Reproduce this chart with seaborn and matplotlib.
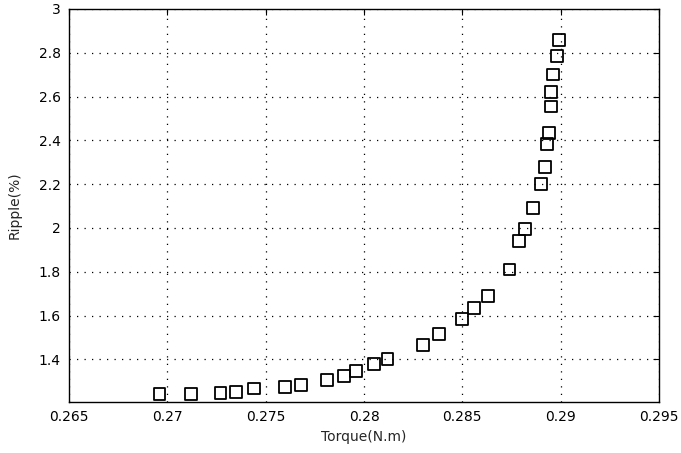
import matplotlib
matplotlib.use("Agg")
import matplotlib.pyplot as plt
import seaborn as sns
import pandas as pd
from matplotlib.ticker import FuncFormatter

# Torque (N.m) and corresponding ripple (%)
torque = [0.2696, 0.2712, 0.2727, 0.2735, 0.2744, 0.2760, 0.2768, 0.2781,
          0.2790, 0.2796, 0.2805, 0.2812, 0.2830, 0.2838, 0.2850, 0.2856,
          0.2863, 0.2874, 0.2879, 0.2882, 0.2886, 0.2890, 0.2892, 0.2893,
          0.2894, 0.2895, 0.2895, 0.2896, 0.2898, 0.2899]
ripple = [1.243, 1.240, 1.246, 1.252, 1.267, 1.273, 1.283, 1.305,
          1.325, 1.347, 1.377, 1.400, 1.465, 1.515, 1.584, 1.633,
          1.689, 1.810, 1.942, 1.995, 2.090, 2.201, 2.279, 2.383,
          2.435, 2.555, 2.622, 2.701, 2.787, 2.859]
x_ticks = [0.265, 0.27, 0.275, 0.28, 0.285, 0.29, 0.295]
y_ticks = [1.4, 1.6, 1.8, 2.0, 2.2, 2.4, 2.6, 2.8, 3.0]

sns.set_style("white")
plt.rcParams["font.family"] = ["DejaVu Sans"]

df = pd.DataFrame({"Torque": torque, "Ripple": ripple})

fig = plt.figure(figsize=(6.81, 4.53), dpi=100)
ax = fig.add_axes([69 / 681, 1 - 402 / 453, 590 / 681, 393 / 453])

sns.scatterplot(data=df, x="Torque", y="Ripple", ax=ax, marker="s", s=72,
                facecolor="none", edgecolor="black", linewidth=1.3, zorder=3)

ax.set_xlim(0.265, 0.295)
ax.set_ylim(1.205, 3.0)
ax.set_xticks(x_ticks)
ax.set_yticks(y_ticks)
ax.xaxis.set_major_formatter(FuncFormatter(lambda v, p: f"{v:g}"))
ax.yaxis.set_major_formatter(FuncFormatter(lambda v, p: f"{v:g}"))

ax.grid(True, linestyle=(0, (1, 5)), color="black", linewidth=0.9)
ax.tick_params(direction="in", length=4, width=0.8, top=True, right=True,
               labelsize=10, colors="black", pad=6)
for s in ax.spines.values():
    s.set_color("black")
    s.set_linewidth(1.0)

ax.set_xlabel("Torque(N.m)", fontsize=10, labelpad=4)
ax.set_ylabel("Ripple(%)", fontsize=10, labelpad=12)

fig.savefig("out.png", dpi=100)
